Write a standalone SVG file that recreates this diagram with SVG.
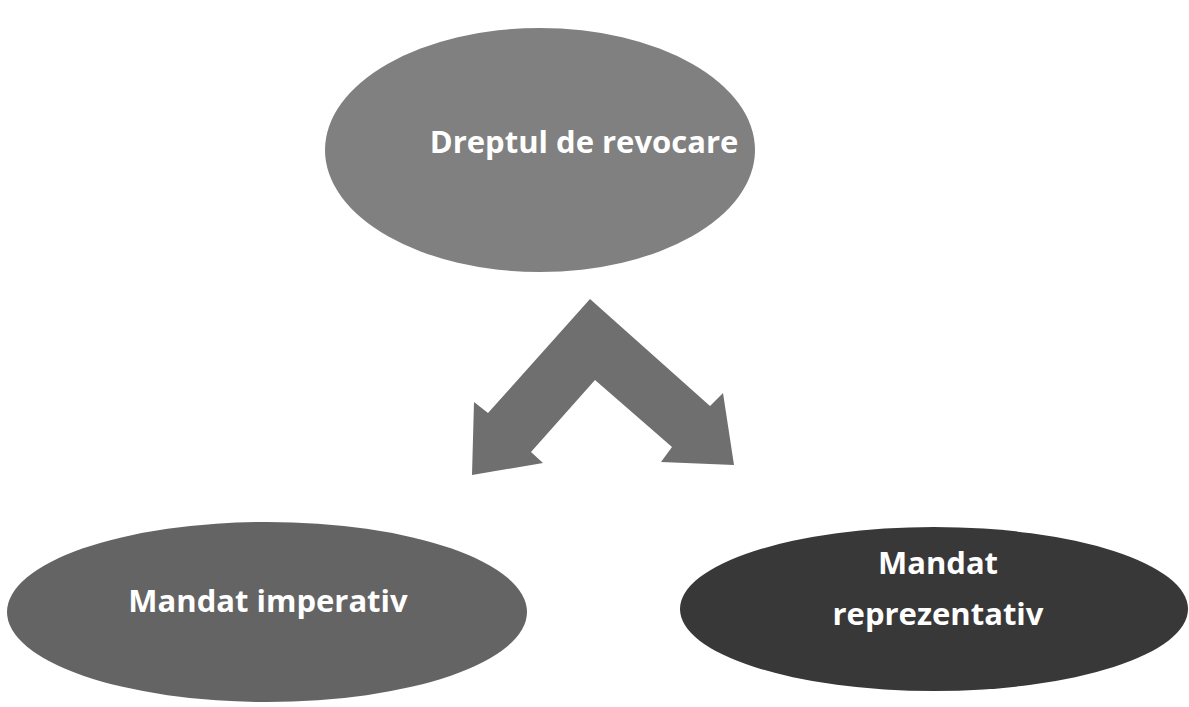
<svg xmlns="http://www.w3.org/2000/svg" width="1189" height="707" viewBox="0 0 1189 707">
<style>
.lbl{font-family:"Open Sans","Liberation Sans",sans-serif;font-weight:bold;font-size:31px;fill:#ffffff;text-anchor:middle}
</style>
<rect width="1189" height="707" fill="#ffffff"/>
<g id="connectors">
<polygon fill="#6f6f6f" points="590,299 710,406 723,393 734,465 661,462 672,447 595,380 531,452 543,463 472,475 474,402 488,413"/>
</g>
<g id="node-revocare">
<ellipse cx="540" cy="150" rx="215" ry="122" fill="#808080"/>
<text class="lbl" x="584" y="153">Dreptul de revocare</text>
</g>
<g id="node-imperativ">
<ellipse cx="267" cy="612" rx="260" ry="90" fill="#646464"/>
<text class="lbl" x="268" y="612">Mandat imperativ</text>
</g>
<g id="node-reprezentativ">
<ellipse cx="934" cy="609" rx="254" ry="82" fill="#383838"/>
<text class="lbl" x="938" y="574">Mandat</text>
<text class="lbl" x="938" y="625">reprezentativ</text>
</g>
</svg>
